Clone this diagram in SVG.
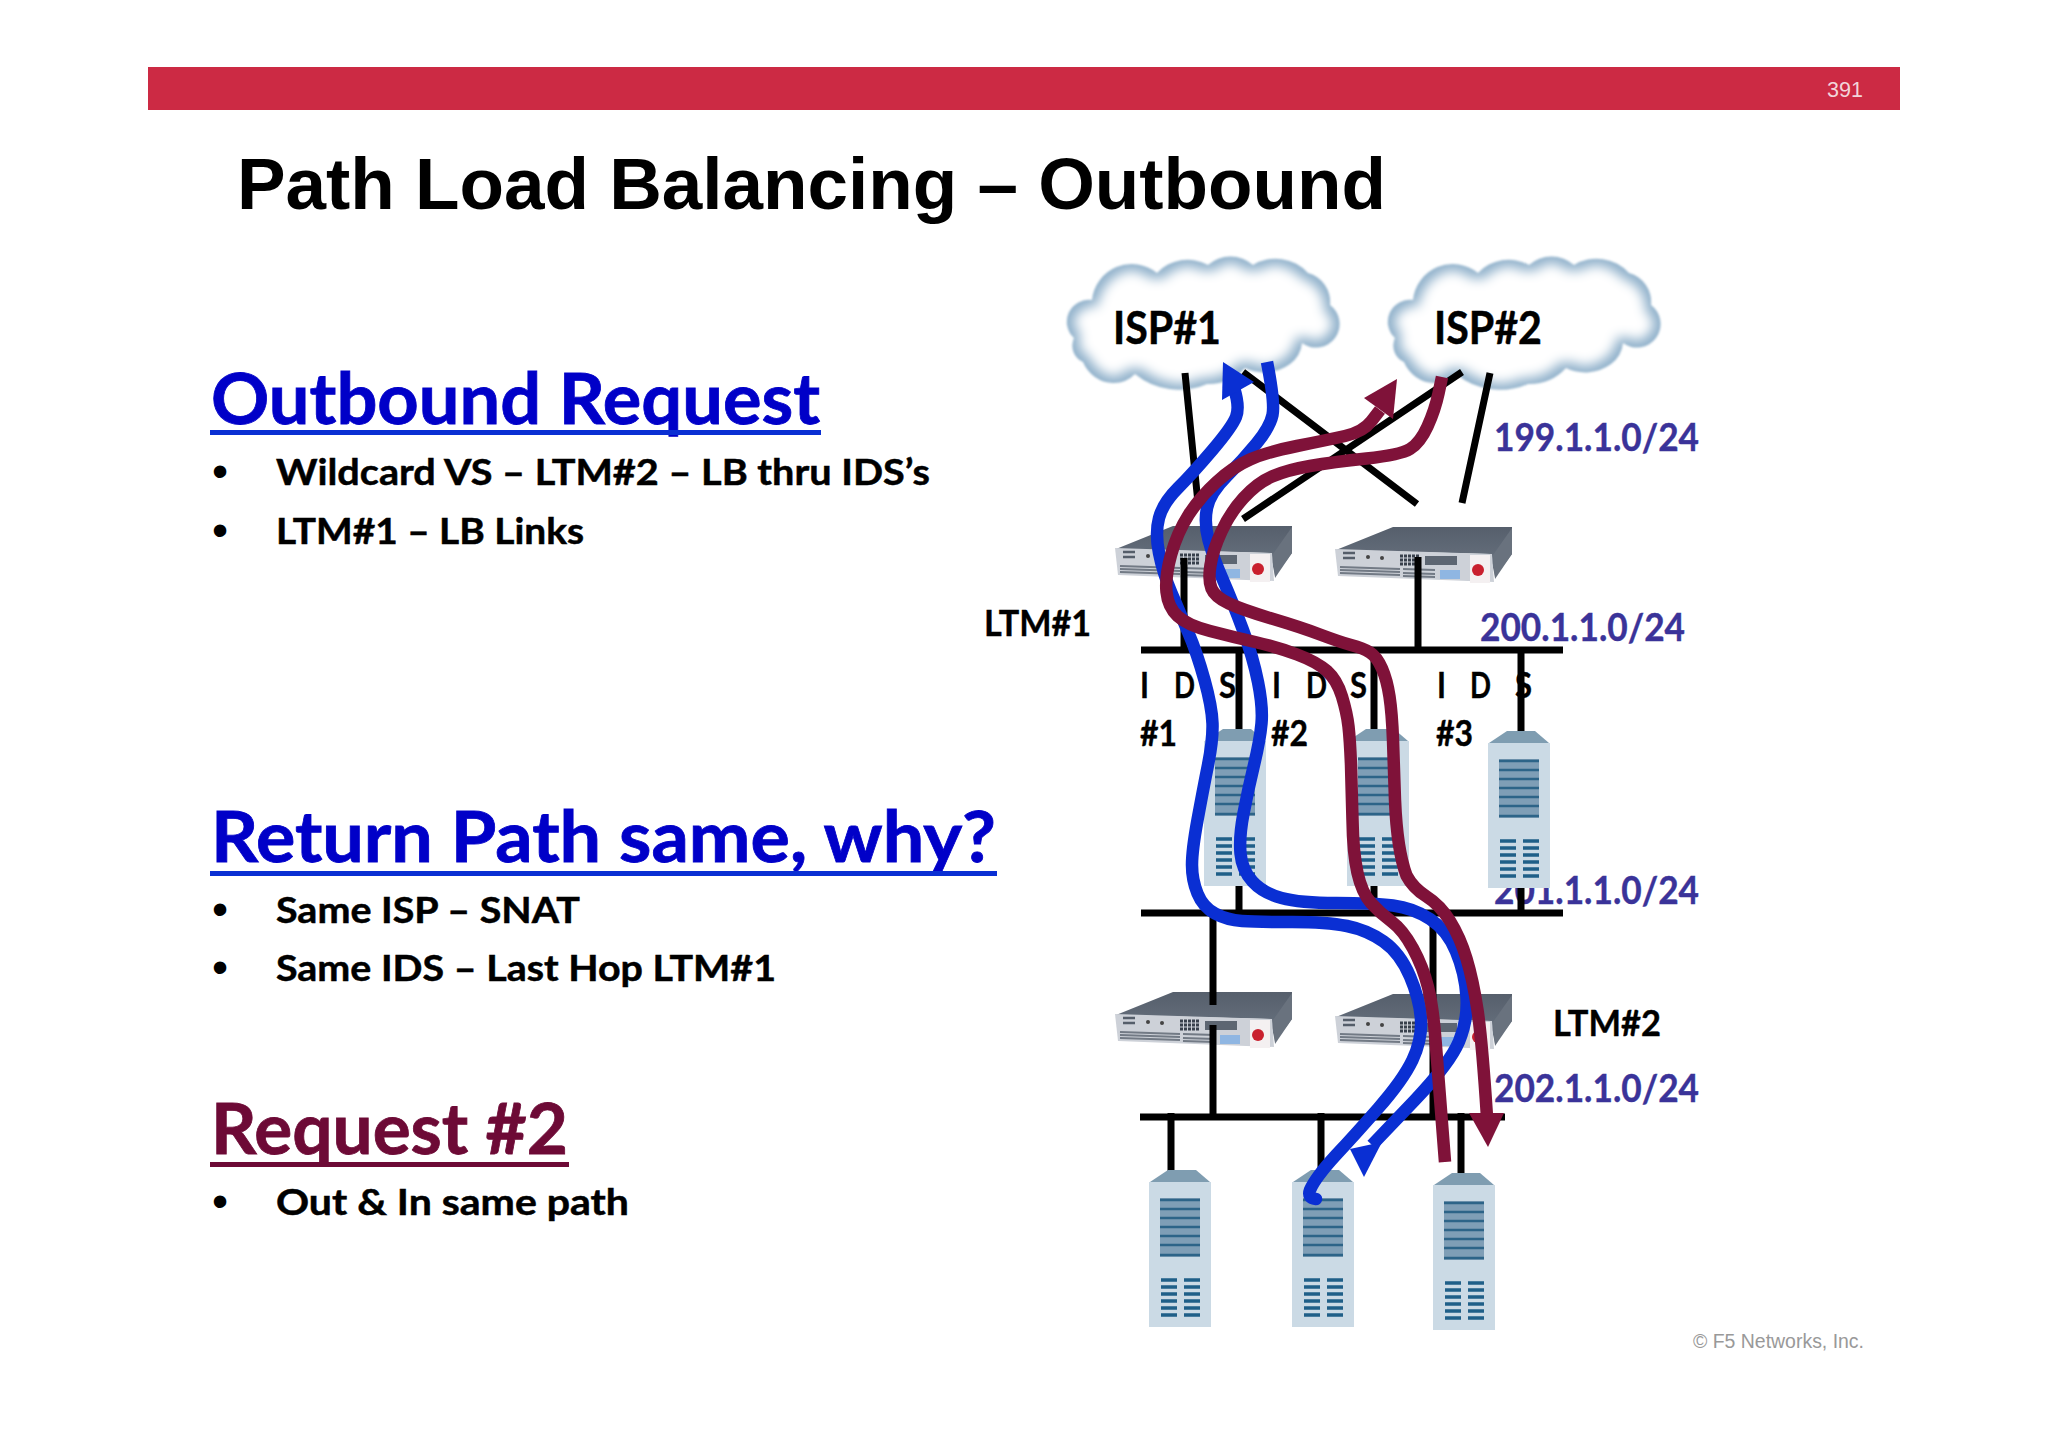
<svg xmlns="http://www.w3.org/2000/svg" width="2048" height="1447" viewBox="0 0 2048 1447">
<style>
text{font-family:Lato,"Open Sans",sans-serif;font-weight:700;fill:#000}
.title{font-family:"Liberation Sans",Arial,sans-serif;font-size:72px}
.h{font-size:71px;fill:#0000c8;stroke:#0000c8;stroke-width:.8px}
.hm{font-size:71px;fill:#6d0a36;stroke:#6d0a36;stroke-width:.8px}
.b{font-size:37px;stroke:#000;stroke-width:.5px}
.bl{font-family:"Liberation Sans",sans-serif;font-size:46px;font-weight:400}
.isp{font-size:46px;stroke:#000;stroke-width:.5px}
.lbl{font-size:37px;stroke:#000;stroke-width:.4px}
.ip{font-size:38px;fill:#3a3399;stroke:#3a3399;stroke-width:.4px}
.ids{font-size:37px;stroke:#000;stroke-width:.4px}
.foot{font-family:"Liberation Sans",sans-serif;font-weight:400}
.ln{stroke:#000;stroke-width:7;fill:none}
.pb{stroke:#0a2fd3;stroke-width:12.5;fill:none;stroke-linejoin:round}
.pm{stroke:#7f1239;stroke-width:12.5;fill:none;stroke-linejoin:round}
</style>
<defs>
<filter id="soft" x="-10%" y="-10%" width="120%" height="120%"><feMorphology operator="erode" radius="6"/><feGaussianBlur stdDeviation="6"/></filter>
<filter id="edge" x="-5%" y="-5%" width="110%" height="110%"><feGaussianBlur stdDeviation="0.8"/></filter>
<path id="cl" d="M32 50A40 40 0 0 1 97 23A42 42 0 0 1 148 15A34 34 0 0 1 193 15A44 44 0 0 1 248 23A30 30 0 0 1 270 55A23 23 0 0 1 242 93A30 30 0 0 1 230 114A44 44 0 0 1 185 118A50 50 0 0 1 147 134A70 70 0 0 1 75 124A30 30 0 0 1 53 133A34 34 0 0 1 23 112A18 18 0 0 1 14 88A22 22 0 0 1 32 50Z"/>
<g id="cloud"><use href="#cl" fill="#8fb0ca" filter="url(#edge)"/><use href="#cl" fill="#fff" filter="url(#soft)"/></g>
<linearGradient id="top" x1="0" y1="0" x2="0" y2="1"><stop offset="0" stop-color="#565f6c"/><stop offset="1" stop-color="#6c7683"/></linearGradient>
<g id="device">
<polygon points="1,23 58,0 177,0 177,27 160,50 155,27" fill="url(#top)"/>
<polygon points="158,28 177,1 177,27 160,52" fill="#69727e"/>
<polygon points="0,22 157,27 159,55 3,49" fill="#cdd1d8"/>
<path d="M8 26H20M8 31H20" stroke="#555e6a" stroke-width="2.5"/>
<circle cx="33" cy="30" r="2" fill="#444"/><circle cx="47" cy="31" r="2" fill="#444"/>
<path d="M65 29H85M65 33H85M65 37H85" stroke="#38404c" stroke-width="3" stroke-dasharray="3 1"/>
<rect x="90" y="29" width="32" height="9" fill="#5d6672"/>
<path d="M5 40L65 42M5 43L65 45M5 46L65 48M68 42L100 43M68 46L100 47M68 49L100 50" stroke="#727a85" stroke-width="2"/>
<rect x="105" y="43" width="20" height="9" fill="#8fb6e2"/>
<rect x="135" y="28" width="20" height="28" fill="#f4f0f1"/>
<circle cx="143" cy="43" r="6" fill="#c9202e"/>
</g>
<g id="server">
<polygon points="1,12 19,0 47,0 61,12" fill="#7f9db1"/>
<rect x="0" y="12" width="62" height="145" fill="#cbdae5"/>
<rect x="11" y="28" width="40" height="59" fill="#7f9eb6"/>
<path d="M11 30H51M11 39H51M11 48H51M11 57H51M11 66H51M11 75H51M11 85H51" stroke="#2d6488" stroke-width="2.5" fill="none"/>
<path d="M12 110H28M35 110H51M12 117H28M35 117H51M12 124H28M35 124H51M12 131H28M35 131H51M12 138H28M35 138H51M12 145H28M35 145H51" stroke="#1f5f88" stroke-width="3.5" fill="none"/>
</g>
</defs>
<rect width="2048" height="1447" fill="#fff"/>
<rect x="148" y="67" width="1752" height="43" fill="#cc2a44"/>
<text class="foot" x="1827" y="97" font-size="22" style="fill:#f2d5da" textLength="36" lengthAdjust="spacingAndGlyphs">391</text>
<text class="title" x="237" y="209" textLength="1149" lengthAdjust="spacingAndGlyphs">Path Load Balancing – Outbound</text>

<g id="text-left">
<text class="h" x="211" y="424" textLength="609" lengthAdjust="spacingAndGlyphs">Outbound Request</text>
<rect x="210" y="430" width="611" height="5" fill="#0a2fd3"/>
<text class="bl" x="212" y="487">•</text>
<text class="b" x="276" y="485" textLength="654" lengthAdjust="spacingAndGlyphs">Wildcard VS – LTM#2 – LB thru IDS’s</text>
<text class="bl" x="212" y="546">•</text>
<text class="b" x="276" y="544" textLength="308" lengthAdjust="spacingAndGlyphs">LTM#1 – LB Links</text>
<text class="h" x="211" y="862" textLength="785" lengthAdjust="spacingAndGlyphs">Return Path same, why?</text>
<rect x="210" y="871" width="787" height="5" fill="#0a2fd3"/>
<text class="bl" x="212" y="925">•</text>
<text class="b" x="276" y="923" textLength="304" lengthAdjust="spacingAndGlyphs">Same ISP – SNAT</text>
<text class="bl" x="212" y="983">•</text>
<text class="b" x="276" y="981" textLength="500" lengthAdjust="spacingAndGlyphs">Same IDS – Last Hop LTM#1</text>
<text class="hm" x="211" y="1154" textLength="357" lengthAdjust="spacingAndGlyphs">Request #2</text>
<rect x="210" y="1162" width="359" height="5" fill="#6d0a36"/>
<text class="bl" x="212" y="1217">•</text>
<text class="b" x="276" y="1215" textLength="353" lengthAdjust="spacingAndGlyphs">Out &amp; In same path</text>
</g>

<g id="isp1"><use href="#cloud" x="1060" y="250"/><text class="isp" x="1113" y="344" textLength="108" lengthAdjust="spacingAndGlyphs">ISP#1</text></g>
<g id="isp2"><use href="#cloud" x="1381" y="250"/><text class="isp" x="1434" y="344" textLength="108" lengthAdjust="spacingAndGlyphs">ISP#2</text></g>

<g id="ip-labels">
<text class="ip" x="1494" y="451" textLength="205" lengthAdjust="spacingAndGlyphs">199.1.1.0/24</text>
<text class="ip" x="1480" y="641" textLength="205" lengthAdjust="spacingAndGlyphs">200.1.1.0/24</text>
<text class="ip" x="1494" y="904" textLength="205" lengthAdjust="spacingAndGlyphs">201.1.1.0/24</text>
<text class="ip" x="1494" y="1102" textLength="205" lengthAdjust="spacingAndGlyphs">202.1.1.0/24</text>
</g>

<g id="ltm1a"><use href="#device" x="1115" y="526"/></g>
<g id="ltm1b"><use href="#device" x="1335" y="527"/></g>
<g id="ltm2a"><use href="#device" x="1115" y="992"/></g>
<g id="ltm2b"><use href="#device" x="1335" y="994"/></g>
<text class="lbl" x="984" y="636" textLength="107" lengthAdjust="spacingAndGlyphs">LTM#1</text>
<text class="lbl" x="1553" y="1036" textLength="108" lengthAdjust="spacingAndGlyphs">LTM#2</text>

<g id="wires" class="ln">
<path d="M1141 650H1563M1141 913H1563M1140 1117H1505"/>
<path d="M1185 373L1198 503M1243 372L1417 504M1462 372L1243 519M1490 373L1462 503"/>
<path d="M1184 558V650M1418 557V650M1239 650V732M1374 650V732M1521 650V735"/>
<path d="M1239 885V913M1374 885V913M1521 885V913"/>
<path d="M1213 913V1005M1213 1025V1117M1433 913V1117"/>
<path d="M1171 1113V1172M1321 1113V1172M1461 1113V1175"/>
</g>

<g id="ids-labels">
<text class="ids" x="1140" y="698" textLength="9" lengthAdjust="spacingAndGlyphs">I</text><text class="ids" x="1174" y="698" textLength="21" lengthAdjust="spacingAndGlyphs">D</text><text class="ids" x="1219" y="698" textLength="17" lengthAdjust="spacingAndGlyphs">S</text>
<text class="ids" x="1272" y="698" textLength="9" lengthAdjust="spacingAndGlyphs">I</text><text class="ids" x="1306" y="698" textLength="21" lengthAdjust="spacingAndGlyphs">D</text><text class="ids" x="1350" y="698" textLength="17" lengthAdjust="spacingAndGlyphs">S</text>
<text class="ids" x="1437" y="698" textLength="9" lengthAdjust="spacingAndGlyphs">I</text><text class="ids" x="1470" y="698" textLength="21" lengthAdjust="spacingAndGlyphs">D</text><text class="ids" x="1515" y="698" textLength="17" lengthAdjust="spacingAndGlyphs">S</text>
<text class="ids" x="1140" y="746" textLength="37" lengthAdjust="spacingAndGlyphs">#1</text>
<text class="ids" x="1271" y="746" textLength="37" lengthAdjust="spacingAndGlyphs">#2</text>
<text class="ids" x="1436" y="746" textLength="37" lengthAdjust="spacingAndGlyphs">#3</text>
</g>

<g id="ids1"><use href="#server" x="1204" y="729"/></g>
<g id="ids2"><use href="#server" x="1347" y="729"/></g>
<g id="ids3"><use href="#server" x="1488" y="731"/></g>
<g id="srv1"><use href="#server" x="1149" y="1170"/></g>
<g id="srv2"><use href="#server" x="1292" y="1170"/></g>
<g id="srv3"><use href="#server" x="1433" y="1173"/></g>

<g id="connectors">
<path class="pb" stroke-linecap="round" d="M1234 388Q1240 407 1236 417Q1232 427 1212.5 450Q1193 473 1178 488Q1163 503 1159 518Q1155 533 1159 553Q1163 573 1171.5 593Q1180 613 1188.5 633Q1197 653 1204.5 680Q1212 707 1212.5 723.5Q1213 740 1208 765Q1203 790 1197.5 820Q1192 850 1192 865Q1192 880 1197.5 893.5Q1203 907 1215 913.5Q1227 920 1242 921Q1257 922 1292 922Q1327 922 1347 926Q1367 930 1383.5 941.5Q1400 953 1410 976.5Q1420 1000 1421 1020Q1422 1040 1412.5 1060Q1403 1080 1378 1108.5Q1353 1137 1336 1155Q1315 1178 1310 1190Q1307 1198 1316 1199"/>
<polygon points="1223,362 1222,400 1254,382" fill="#0a2fd3"/>
<path class="pb" d="M1267 362Q1275 403 1272.5 415Q1270 427 1256.5 443.5Q1243 460 1226.5 476.5Q1210 493 1207 508Q1204 523 1208.5 540Q1213 557 1223 580Q1233 603 1243 630Q1253 657 1258 682Q1263 707 1261.5 723.5Q1260 740 1254 765Q1248 790 1243.5 813.5Q1239 837 1240.5 853.5Q1242 870 1252.5 881.5Q1263 893 1281.5 898Q1300 903 1336.5 903Q1373 903 1393 905.5Q1413 908 1430 919Q1447 930 1456 951.5Q1465 973 1466.5 996.5Q1468 1020 1459 1041.5Q1450 1063 1415 1100L1372 1145"/>
<polygon points="1350,1149 1382,1142 1364,1177" fill="#0a2fd3"/>
<path class="pm" d="M1380 410L1371.5 421Q1363 432 1345 436Q1327 440 1297 446Q1267 452 1250 459.5Q1233 467 1216.5 482Q1200 497 1188.5 515Q1177 533 1171 555Q1165 577 1166.5 592Q1168 607 1177.5 616Q1187 625 1210 631Q1233 637 1255 642Q1277 647 1297 654.5Q1317 662 1327 671Q1337 680 1342 696.5Q1347 713 1348.5 726.5Q1350 740 1351 765L1352.5 820Q1353 853 1357.5 873Q1362 893 1371 903Q1380 913 1391.5 921.5Q1403 930 1413 948.5Q1423 967 1428 987Q1433 1007 1435.5 1040L1445 1162"/>
<polygon points="1397,379 1364,398 1393,419" fill="#7f1239"/>
<path class="pm" d="M1442 377L1438.5 393.5Q1435 410 1427.5 426.5Q1420 443 1410 449Q1400 455 1366.5 458.5Q1333 462 1310 466Q1287 470 1272 476.5Q1257 483 1243.5 498Q1230 513 1221.5 531.5Q1213 550 1210.5 565Q1208 580 1211.5 588.5Q1215 597 1229 603.5Q1243 610 1271.5 618.5Q1300 627 1320 634.5Q1340 642 1351 645Q1363 648 1370 652.5Q1377 657 1382 668.5Q1387 680 1389.5 696.5Q1392 713 1393 740L1395 800Q1397 850 1406.5 875.5Q1413 888 1426.5 896.5Q1440 905 1450 921Q1460 937 1466.5 958.5Q1473 980 1477.5 1010Q1482 1040 1487 1117"/>
<polygon points="1469,1113 1504,1113 1488,1147" fill="#7f1239"/>
</g>

<text class="foot" x="1693" y="1348" font-size="20" style="fill:#999" textLength="171" lengthAdjust="spacingAndGlyphs">© F5 Networks, Inc.</text>
</svg>
